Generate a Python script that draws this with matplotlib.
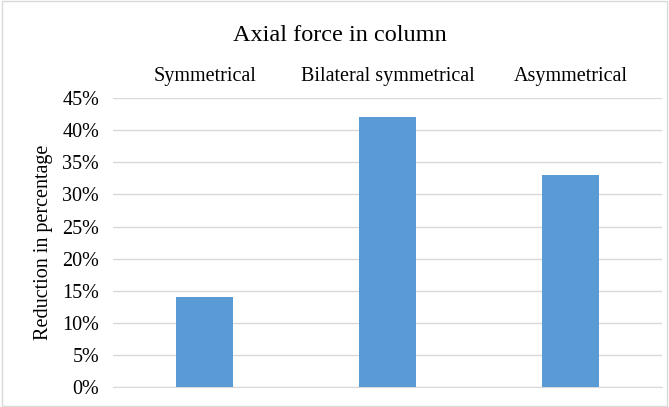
import matplotlib
matplotlib.use("Agg")
import matplotlib.pyplot as plt
from matplotlib.patches import Rectangle

categories = ["Symmetrical", "Bilateral symmetrical", "Asymmetrical"]
values = [14, 42, 33]
yticks = [0, 5, 10, 15, 20, 25, 30, 35, 40, 45]
ytick_labels = [f"{v}%" for v in yticks]

plt.rcParams['font.family'] = ['Liberation Serif', 'DejaVu Serif']

fig = plt.figure(figsize=(6.69, 4.07), dpi=100)
ax = fig.add_axes([0.169, 0.049, 0.821, 0.71])

x = list(range(len(categories)))
ax.bar(x, values, width=0.31, color="#5b9bd5", zorder=3)
ax.set_xlim(-0.5, 2.5)
ax.set_ylim(0, 45)
ax.set_yticks(yticks)
ax.set_yticklabels(ytick_labels, fontsize=14.5)
ax.yaxis.grid(True, color="#d9d9d9", linewidth=1, zorder=0)
ax.tick_params(axis='y', length=0, pad=10)

ax.xaxis.tick_top()
ax.set_xticks(x)
ax.set_xticklabels(categories, fontsize=14.5)
ax.tick_params(axis='x', length=0, pad=9)

for s in ["top", "right", "left"]:
    ax.spines[s].set_visible(False)
ax.spines["bottom"].set_color("#d9d9d9")

ax.set_ylabel("Reduction in percentage", fontsize=14.5, va="center")
ax.yaxis.set_label_coords(-0.126, 0.5)
fig.text(0.508, 0.912, "Axial force in column", ha="center", va="center", fontsize=17.5)

fig.patches.append(Rectangle((0.003, 0.003), 0.994, 0.994, transform=fig.transFigure,
                             fill=False, edgecolor="#d9d9d9", linewidth=1))

fig.savefig("out.png", dpi=100)
